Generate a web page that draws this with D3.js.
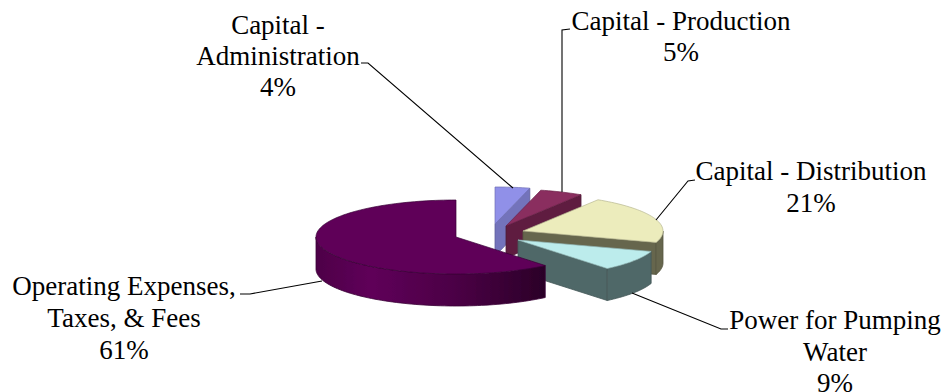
<!DOCTYPE html>
<html>
<head>
<meta charset="utf-8">
<script src="https://cdn.jsdelivr.net/npm/d3@7/dist/d3.min.js"></script>
<style>
html,body{margin:0;padding:0;background:#fff;overflow:hidden}
svg{display:block}
text{font-family:"Liberation Serif",serif;font-size:27px;fill:#000}
</style>
</head>
<body>
<svg id="chart" width="944" height="392"></svg>
<script>
// Cost shares, listed clockwise from twelve o'clock
const categories = ["Capital - Administration", "Capital - Production", "Capital - Distribution", "Power for Pumping Water", "Operating Expenses, Taxes, & Fees"];
const shares = [4, 5, 21, 9, 61];
const labelLines = [
  ["Capital -", "Administration", "4%"],
  ["Capital - Production", "5%"],
  ["Capital - Distribution", "21%"],
  ["Power for Pumping", "Water", "9%"],
  ["Operating Expenses,", "Taxes, & Fees", "61%"]
];

// Slice appearance
const topColors = ["#9090e8", "#8a2d5e", "#ececbc", "#bcecec", "#5f0059"];
const wallColors = ["#7373bb", "#5e1f40", "#66664d", "#506868", "url(#frontWall)"];

// Pie geometry
const radiusX = 140, radiusY = 37, depth = 32;
const origins = [[495, 224], [506, 226], [523, 231], [518, 240], [456, 237]];

// Label placement: centre x, first baseline, leader polyline
const labelCentres = [[278, 34], [681, 30], [811, 180], [835, 329], [124, 295]];
const lineGap = [31, 31, 32, 31.5, 32];
const leaders = [
  [[361, 63], [368, 63], [513, 188]],
  [[570, 29], [562, 30], [562, 192]],
  [[695, 180], [688, 181], [656, 220]],
  [[728, 329], [721, 329], [632, 293]],
  [[240, 294], [250, 294], [322, 281]]
];

const svg = d3.select("#chart");
const defs = svg.append("defs");

const grad = defs.append("linearGradient")
  .attr("id", "frontWall")
  .attr("gradientUnits", "userSpaceOnUse")
  .attr("x1", 316).attr("x2", 544).attr("y1", 0).attr("y2", 0);
[[0, "#4e0048"], [0.24, "#5f0059"], [0.6, "#4c0046"], [1, "#2b0028"]].forEach(([o, c]) =>
  grad.append("stop").attr("offset", o).attr("stop-color", c));

defs.append("filter").attr("id", "soft")
  .append("feGaussianBlur").attr("stdDeviation", 0.45);

const slices = d3.pie().sort(null).value(d => d)(shares);

// Project a pie angle onto the tilted ellipse around a slice origin
const project = (origin, a, drop = 0) => [
  origin[0] + Math.sin(a) * radiusX,
  origin[1] - Math.cos(a) * radiusY + drop
];
const path = d3.line();
const arcSteps = (a0, a1) => {
  const n = Math.max(2, Math.ceil((a1 - a0) / 0.03));
  return d3.range(n + 1).map(i => a0 + (a1 - a0) * i / n);
};

const pie = svg.append("g").attr("filter", "url(#soft)");

slices.forEach((s, i) => {
  const o = origins[i];
  const g = pie.append("g").attr("class", "slice");
  const wall = (pts, fill) => g.append("path")
    .attr("d", path(pts) + "Z")
    .attr("fill", fill)
    .attr("stroke", i === 4 ? "#3a0036" : d3.color(wallColors[i]).darker(0.5))
    .attr("stroke-width", 0.8)
    .attr("stroke-linejoin", "round");

  // Cut faces that turn toward the viewer
  const cut = a => [[o[0], o[1]], project(o, a), project(o, a, depth), [o[0], o[1] + depth]];
  if (Math.sin(s.endAngle) > 0.001) wall(cut(s.endAngle), wallColors[i]);
  if (Math.sin(s.startAngle) < -0.001) wall(cut(s.startAngle), wallColors[i]);

  // Outer rim, front half only
  const from = Math.max(s.startAngle, Math.PI / 2);
  const to = Math.min(s.endAngle, Math.PI * 1.5);
  if (to > from) {
    const angles = arcSteps(from, to);
    wall(angles.map(a => project(o, a)).concat(angles.slice().reverse().map(a => project(o, a, depth))), wallColors[i]);
  }

  // Top face
  g.append("path")
    .attr("d", path([[o[0], o[1]]].concat(arcSteps(s.startAngle, s.endAngle).map(a => project(o, a)))) + "Z")
    .attr("fill", topColors[i])
    .attr("stroke", i === 4 ? "#3a0036" : d3.color(topColors[i]).darker(0.7))
    .attr("stroke-width", 0.7)
    .attr("stroke-linejoin", "round");
});

// Leader lines
svg.append("g").selectAll("path").data(leaders).join("path")
  .attr("d", d => path(d))
  .attr("fill", "none")
  .attr("stroke", "#000")
  .attr("stroke-width", 1.1);

// Category labels
labelLines.forEach((lines, i) => {
  const [x, y] = labelCentres[i];
  const t = svg.append("text").attr("text-anchor", "middle").attr("aria-label", categories[i]);
  lines.forEach((line, k) => t.append("tspan").attr("x", x).attr("y", y + k * lineGap[i]).text(line));
});
</script>
</body>
</html>
